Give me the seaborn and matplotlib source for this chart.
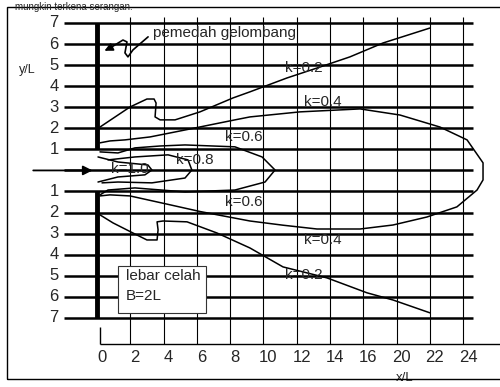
import matplotlib
matplotlib.use("Agg")
import matplotlib.pyplot as plt
import seaborn as sns
import pandas as pd
from matplotlib.patches import Rectangle

sns.set_style("white")
plt.rcParams["font.family"] = ["Liberation Sans", "DejaVu Sans"]

# ---- diffraction contour lines (x/L, y/L) ----
k02_up_x = [0.18, 1.98, 3.00, 3.43, 3.55, 3.49, 3.79, 4.69, 6.19, 8.17, 9.19, 11.42, 13.22, 15.20, 17.19, 20.01]
k02_up_y = [2.06, 3.01, 3.39, 3.39, 3.20, 2.54, 2.40, 2.40, 2.78, 3.44, 3.73, 4.39, 4.86, 5.39, 6.05, 6.76]
k02_lo_x = [0.18, 0.96, 2.16, 3.00, 3.61, 3.67, 3.61, 3.97, 5.41, 7.21, 9.19, 11.18, 13.82, 16.23, 17.79, 20.01]
k02_lo_y = [-2.11, -2.49, -2.97, -3.30, -3.30, -2.82, -2.44, -2.40, -2.44, -2.97, -3.68, -4.58, -5.10, -5.81, -6.15, -6.76]
k04_x = [0.18, 0.78, 1.68, 3.19, 5.29, 8.29, 9.19, 12.20, 15.81, 18.21, 20.61, 22.24, 23.20, 23.20, 22.84,
         21.63, 19.83, 17.79, 15.81, 13.22, 11.18, 9.19, 6.19, 4.21, 1.98, 0.78, 0.18]
k04_y = [1.31, 1.40, 1.45, 1.59, 1.92, 2.40, 2.54, 2.78, 2.92, 2.63, 2.06, 1.45, 0.36, -0.45, -0.93,
         -1.73, -2.21, -2.59, -2.78, -2.78, -2.60, -2.40, -1.95, -1.60, -1.21, -1.16, -1.21]
k06_x = [0.18, 1.26, 2.28, 3.79, 5.29, 8.29, 9.92, 10.70, 10.10, 8.29, 5.29, 2.28, 0.66, 0.18]
k06_y = [0.88, 0.83, 1.07, 1.16, 1.21, 1.12, 0.64, 0.02, -0.55, -0.93, -1.02, -0.83, -0.93, -1.16]
k08_x = [0.66, 2.28, 4.27, 5.47, 5.70, 5.29, 3.30, 1.26, 0.30]
k08_y = [0.50, 0.64, 0.74, 0.50, 0.02, -0.36, -0.59, -0.55, -0.59]
k10_x = [0.06, 1.26, 3.06, 3.30, 2.88, 1.26, 0.06]
k10_y = [0.64, 0.40, 0.26, 0.02, -0.21, -0.31, -0.55]

# contour labels
lab_text = ["k=0.2", "k=0.2", "k=0.4", "k=0.4", "k=0.6", "k=0.6", "k=0.8", "k=1.0"]
lab_x = [12.4, 12.4, 13.6, 13.6, 8.8, 8.8, 5.9, 2.0]
lab_y = [4.86, -4.96, 3.25, -3.30, 1.60, -1.50, 0.50, 0.07]

# axis labels / ticks
y_levels = [7, 6, 5, 4, 3, 2, 1, 0, -1, -2, -3, -4, -5, -6, -7]
x_grid = [2, 4, 6, 8, 10, 12, 14, 16, 18, 20, 22]
x_tick_pos = [0, 2, 4, 6, 8, 10, 12, 14, 16, 18, 20, 22]
x_tick_lab = ["0", "2", "4", "6", "8", "10", "12", "14", "16", "20", "22", "24"]

curves = [("k02u", k02_up_x, k02_up_y), ("k02l", k02_lo_x, k02_lo_y), ("k04", k04_x, k04_y),
          ("k06", k06_x, k06_y), ("k08", k08_x, k08_y), ("k10", k10_x, k10_y)]
rows = []
for name, xs, ys in curves:
    for i, (a, b) in enumerate(zip(xs, ys)):
        rows.append({"curve": name, "order": i, "x": a, "y": b})
df = pd.DataFrame(rows)

fig = plt.figure(figsize=(5.0, 3.87), dpi=100)
ax = fig.add_axes([0, 0, 1, 1])
ax.set_xlim(-5.83, 24.22)
ax.set_ylim(-10.28, 8.09)
ax.axis("off")

# grid
ax.hlines(y_levels, -2.0, 22.6, color="black", lw=1.8, zorder=1)
ax.vlines(x_grid, -8.23, 7.28, color="black", lw=0.8, zorder=1)
# breakwater
ax.vlines([0, 0], [1.0, -7.0], [7.0, -1.0], color="black", lw=3.5, zorder=2)
# x axis line
ax.hlines(-8.23, 0.18, 24.5, color="black", lw=1.0)
ax.vlines(0.18, -8.23, -7.43, color="black", lw=1.0)

sns.lineplot(data=df, x="x", y="y", units="curve", estimator=None, sort=False,
             color="black", lw=1.1, ax=ax, zorder=3)

for t, a, b in zip(lab_text, lab_x, lab_y):
    ax.text(a, b, t, ha="center", va="center", fontsize=11, zorder=4)

for lv in y_levels:
    if lv != 0:
        ax.text(-2.3, lv, str(abs(lv)), ha="right", va="center", fontsize=12)
for p, t in zip(x_tick_pos, x_tick_lab):
    ax.text(p + 0.3, -8.9, t, ha="center", va="center", fontsize=12)

ax.text(-4.2, 4.77, "y/L", ha="center", va="center", fontsize=9)
ax.text(18.5, -9.85, "x/L", ha="center", va="center", fontsize=9.5)

# incident wave arrow
ax.annotate("", xy=(-0.1, 0), xytext=(-4.0, 0),
            arrowprops=dict(arrowstyle="-|>", color="black", lw=1.3, mutation_scale=14), zorder=5)

# breakwater annotation
sq_x = [3.07, 2.16, 1.86, 1.68, 1.80, 1.56, 0.78]
sq_y = [6.34, 5.72, 5.39, 5.58, 6.10, 6.19, 5.81]
ax.plot(sq_x, sq_y, color="black", lw=1.2, zorder=5)
ax.annotate("", xy=(0.3, 5.62), xytext=(0.78, 5.81),
            arrowprops=dict(arrowstyle="-|>", color="black", lw=1.2, mutation_scale=12), zorder=5)
ax.text(3.37, 6.53, "pemedah gelombang", ha="left", va="center", fontsize=11, zorder=5)

# gap width box
ax.add_patch(Rectangle((1.26, -6.76), 5.29, 2.23, fc="white", ec="#333333", lw=0.8, zorder=6))
ax.text(1.75, -5.0, "lebar celah", ha="left", va="center", fontsize=11, zorder=7)
ax.text(1.75, -5.96, "B=2L", ha="left", va="center", fontsize=11, zorder=7)

# outer frame and caption strip at the top
fig.patches.append(Rectangle((7 / 500, 1 - 379 / 387), 1.2, (379 - 7) / 387, transform=fig.transFigure,
                             fill=False, ec="black", lw=1.0))
fig.text(15 / 500, 1 - 9.5 / 387, "mungkin terkena serangan.", fontsize=7, va="baseline")

fig.savefig("out.png", dpi=100)
